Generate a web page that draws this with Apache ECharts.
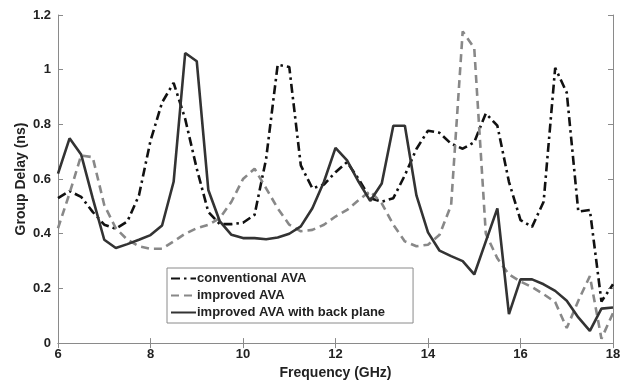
<!DOCTYPE html>
<html>
<head>
<meta charset="utf-8">
<script src="https://cdn.jsdelivr.net/npm/echarts@6/dist/echarts.min.js"></script>
<style>
html,body{margin:0;padding:0;background:#fff;}
#chart{width:629px;height:385px;}
</style>
</head>
<body>
<div id="chart"></div>
<script>
var freq = [6, 6.25, 6.5, 6.75, 7, 7.25, 7.5, 7.75, 8, 8.25, 8.5, 8.75, 9, 9.25, 9.5, 9.75, 10, 10.25, 10.5, 10.75, 11, 11.25, 11.5, 11.75, 12, 12.25, 12.5, 12.75, 13, 13.25, 13.5, 13.75, 14, 14.25, 14.5, 14.75, 15, 15.25, 15.5, 15.75, 16, 16.25, 16.5, 16.75, 17, 17.25, 17.5, 17.75, 18];
var conventional = [0.53, 0.556, 0.535, 0.48, 0.433, 0.418, 0.445, 0.54, 0.74, 0.88, 0.952, 0.82, 0.638, 0.48, 0.435, 0.435, 0.44, 0.469, 0.674, 1.018, 1.01, 0.65, 0.566, 0.58, 0.625, 0.662, 0.60, 0.53, 0.517, 0.53, 0.614, 0.71, 0.777, 0.769, 0.729, 0.711, 0.735, 0.84, 0.795, 0.59, 0.45, 0.425, 0.517, 1.007, 0.916, 0.481, 0.487, 0.152, 0.215];
var improved = [0.42, 0.548, 0.686, 0.68, 0.505, 0.42, 0.378, 0.354, 0.345, 0.345, 0.372, 0.40, 0.42, 0.433, 0.457, 0.517, 0.60, 0.638, 0.566, 0.493, 0.433, 0.409, 0.414, 0.433, 0.463, 0.487, 0.523, 0.556, 0.511, 0.433, 0.372, 0.354, 0.36, 0.396, 0.505, 1.14, 1.079, 0.40, 0.31, 0.251, 0.225, 0.205, 0.179, 0.15, 0.055, 0.155, 0.245, 0.016, 0.11];
var backPlane = [0.62, 0.749, 0.69, 0.53, 0.378, 0.348, 0.362, 0.378, 0.395, 0.43, 0.59, 1.061, 1.031, 0.56, 0.445, 0.396, 0.384, 0.384, 0.38, 0.386, 0.40, 0.427, 0.493, 0.59, 0.714, 0.668, 0.59, 0.52, 0.584, 0.795, 0.795, 0.54, 0.405, 0.338, 0.318, 0.30, 0.251, 0.372, 0.493, 0.106, 0.233, 0.233, 0.215, 0.191, 0.155, 0.094, 0.045, 0.126, 0.13];
var seriesNames = ['conventional AVA', 'improved AVA', 'improved AVA with back plane'];
var xTitle = 'Frequency (GHz)';
var yTitle = 'Group Delay (ns)';

function pairs(ys){ return freq.map(function(f,i){ return [f, ys[i]]; }); }

var font = 'Liberation Sans, Arial, sans-serif';
var chart = echarts.init(document.getElementById('chart'), null, {renderer:'canvas'});
var axisLine = {show:true, lineStyle:{color:'#8a8a8a', width:1}};
var tick = {show:true, inside:true, length:5, lineStyle:{color:'#8a8a8a'}};
chart.setOption({
  animation:false,
  backgroundColor:'#fff',
  grid:{left:58, right:16, top:15, bottom:39},
  xAxis:[{
    type:'value', min:6, max:18, interval:2,
    axisLine:axisLine, axisTick:tick, splitLine:{show:false},
    axisLabel:{fontFamily:font, fontWeight:'bold', fontSize:13, color:'#222', margin:5},
    name:xTitle, nameLocation:'middle', nameGap:21,
    nameTextStyle:{fontFamily:font, fontWeight:'bold', fontSize:14, color:'#222'}
  },{
    type:'value', min:6, max:18, interval:2, position:'top',
    axisLine:axisLine, axisTick:tick, axisLabel:{show:false}, splitLine:{show:false}
  }],
  yAxis:[{
    type:'value', min:0, max:1.2, interval:0.2,
    axisLine:axisLine, axisTick:tick, splitLine:{show:false},
    axisLabel:{fontFamily:font, fontWeight:'bold', fontSize:13, color:'#222', margin:7},
    name:yTitle, nameLocation:'middle', nameGap:30, nameMoveOverlap:false,
    nameTextStyle:{fontFamily:font, fontWeight:'bold', fontSize:14, color:'#222'}
  },{
    type:'value', min:0, max:1.2, interval:0.2, position:'right',
    axisLine:axisLine, axisTick:tick, axisLabel:{show:false}, splitLine:{show:false}
  }],
  legend:{
    left:167, top:268, orient:'vertical',
    backgroundColor:'#fff', borderColor:'#8a8a8a', borderWidth:1,
    padding:[4,28,4,3], itemGap:4, itemWidth:25, itemHeight:14,
    itemStyle:{opacity:0},
    textStyle:{fontFamily:font, fontWeight:'bold', fontSize:13, color:'#222', padding:[0,0,0,-4]},
    data:seriesNames
  },
  series:[{
    name:seriesNames[0], type:'line', symbol:'none', data:pairs(conventional),
    lineStyle:{color:'#111', width:2.6, type:[9,4,2.5,4]}, itemStyle:{color:'#111'}
  },{
    name:seriesNames[1], type:'line', symbol:'none', data:pairs(improved),
    lineStyle:{color:'#888', width:2.6, type:[8,5]}, itemStyle:{color:'#888'}
  },{
    name:seriesNames[2], type:'line', symbol:'none', data:pairs(backPlane),
    lineStyle:{color:'#333', width:2.6}, itemStyle:{color:'#333'}
  }]
});
</script>
</body>
</html>
